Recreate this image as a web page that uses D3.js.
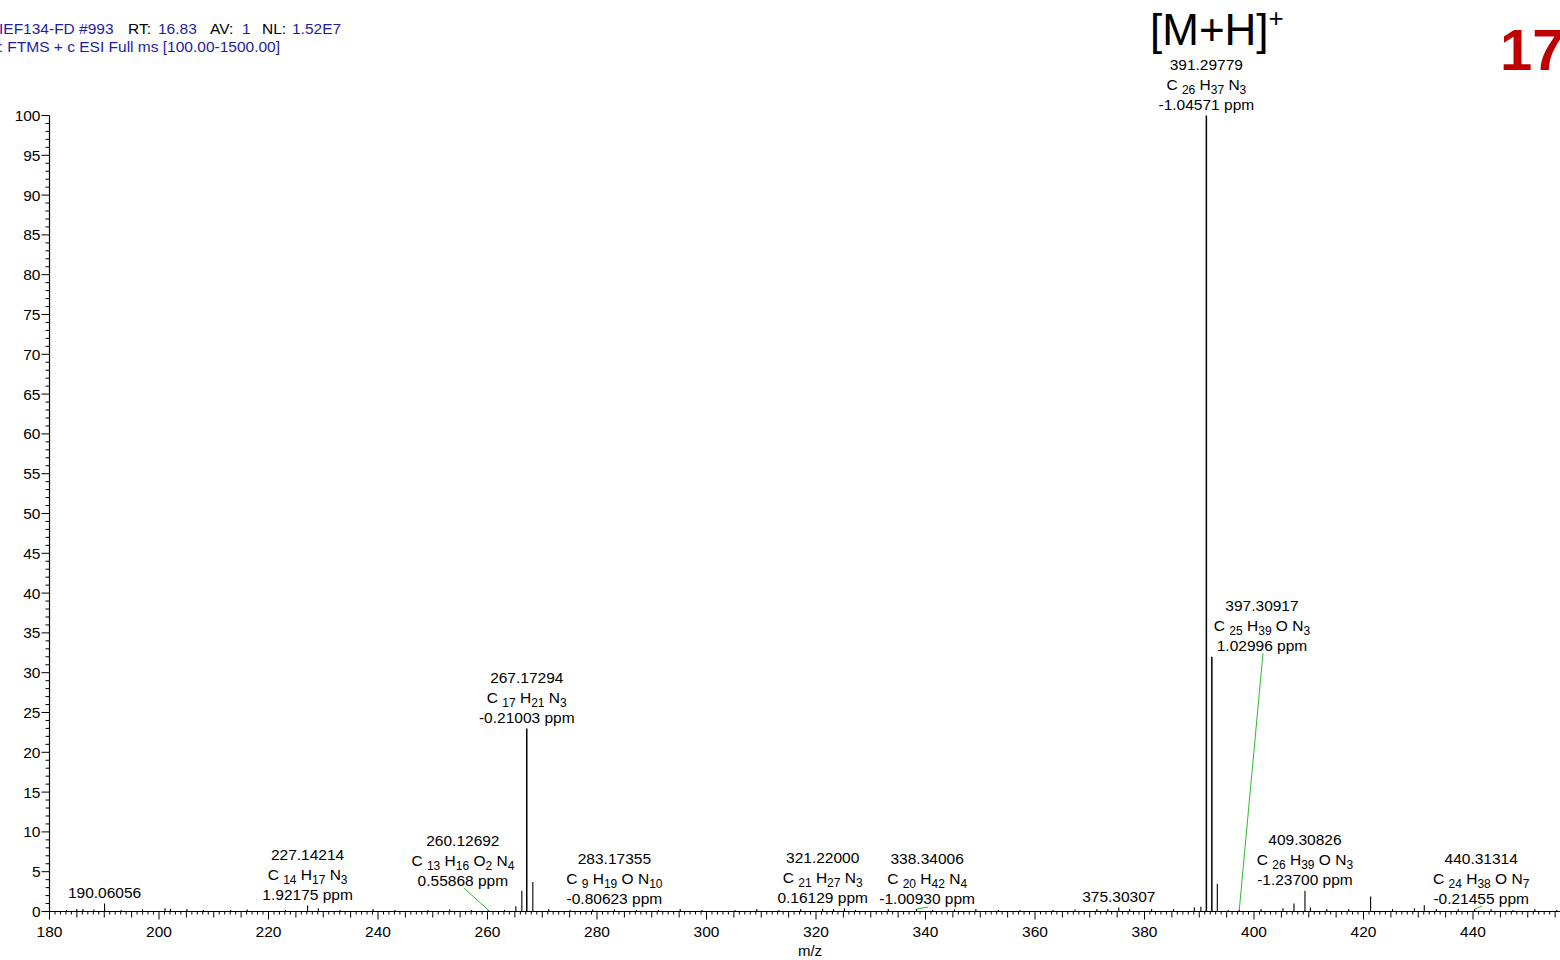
<!DOCTYPE html>
<html>
<head>
<meta charset="utf-8">
<script src="https://cdnjs.cloudflare.com/ajax/libs/d3/7.8.5/d3.min.js"></script>
<style>
  body { margin: 0; background: #fff; overflow: hidden; }
  svg text { font-family: "Liberation Sans", Arial, sans-serif; }
</style>
</head>
<body>
<svg id="spec" width="1560" height="960"></svg>
<script>
// peaks (m/z, relative abundance)
var peakMz = [
  183.1, 185.0, 186.1, 188.1, 190.06, 193.1, 197.0, 201.1, 202.1, 205.1, 208.1, 213.1, 216.1,
  223.1, 227.14, 229.1, 233.1, 239.1, 243.1, 249.1, 253.1, 257.1, 260.13, 263.1,
  265.17, 266.27, 267.17, 268.28, 271.2, 275.1, 279.2, 283.17, 287.2, 291.2, 295.2, 299.2,
  305.2, 309.2, 313.2, 317.2, 321.22, 323.2, 325.2, 327.2, 333.2, 338.34, 341.3, 345.3,
  349.2, 353.3, 357.3, 363.3, 367.3, 371.3, 373.3, 375.30, 377.3, 381.3, 385.3, 389.1,
  390.3, 391.30, 392.30, 393.30, 395.3, 397.31, 401.3, 405.3, 407.3, 409.31, 410.3,
  413.3, 417.3, 421.3, 425.3, 429.3, 431.1, 433.3, 437.3, 440.31, 443.3, 447.3, 451.3, 455.3
];
var peakInt = [
  0.2, 0.3, 0.3, 0.25, 1.0, 0.2, 0.25, 0.4, 0.35, 0.3, 0.2, 0.2, 0.25,
  0.2, 0.75, 0.4, 0.2, 0.3, 0.2, 0.2, 0.25, 0.2, 0.2, 0.2,
  0.65, 2.6, 23.0, 3.7, 0.3, 0.2, 0.25, 0.25, 0.2, 0.2, 0.3, 0.2,
  0.2, 0.3, 0.2, 0.3, 0.35, 0.3, 0.4, 0.2, 0.3, 0.3, 0.2, 0.25,
  0.3, 0.2, 0.2, 0.2, 0.25, 0.3, 0.3, 0.5, 0.3, 0.3, 0.3, 0.5,
  0.6, 100, 32.0, 3.5, 0.2, 0.25, 0.3, 0.4, 1.0, 2.6, 0.5,
  0.3, 0.3, 1.9, 0.3, 0.4, 0.8, 0.3, 0.3, 0.3, 0.3, 0.2, 0.3, 0.2
];

// peak annotations
var annMz      = [190.06056, 227.14214, 260.12692, 267.17294, 283.17355, 321.22000, 338.34006, 375.30307, 391.29779, 397.30917, 409.30826, 440.31314];
var annInt     = [1.0, 0.75, 0.2, 23.0, 0.25, 0.35, 0.3, 0.5, 100, 0.2, 2.6, 0.3];
var annFormula = ["", "C14 H17 N3", "C13 H16 O2 N4", "C17 H21 N3", "C9 H19 O N10", "C21 H27 N3", "C20 H42 N4", "", "C26 H37 N3", "C25 H39 O N3", "C26 H39 O N3", "C24 H38 O N7"];
var annPpm     = ["", "1.92175", "0.55868", "-0.21003", "-0.80623", "0.16129", "-1.00930", "", "-1.04571", "1.02996", "-1.23700", "-0.21455"];
// where the label sits when it is moved off its peak (m/z, abundance), null = right above
var annLabelMz  = [null, null, 255.5, null, null, null, 340.3, null, null, 401.46, null, 441.5];
var annLabelInt = [null, null, 2.95, null, null, null, 0.57, null, null, 32.45, null, 0.69];

var xTicks = [180, 200, 220, 240, 260, 280, 300, 320, 340, 360, 380, 400, 420, 440];
var yTicks = [0, 5, 10, 15, 20, 25, 30, 35, 40, 45, 50, 55, 60, 65, 70, 75, 80, 85, 90, 95, 100];

var x = d3.scaleLinear().domain([180, 456]).range([49.5, 1560.6]);
var y = d3.scaleLinear().domain([0, 100]).range([911.5, 115.5]);

var svg = d3.select("#spec");

// header
var blue = "#1d1d9e";
var h1 = svg.append("text").attr("y", 34).style("font-size", "15.5px");
h1.append("tspan").attr("x", -1).attr("fill", blue).text("IEF134-FD #993");
h1.append("tspan").attr("x", 128).attr("fill", "#000").text("RT:");
h1.append("tspan").attr("x", 158).attr("fill", blue).text("16.83");
h1.append("tspan").attr("x", 210).attr("fill", "#000").text("AV:");
h1.append("tspan").attr("x", 242).attr("fill", blue).text("1");
h1.append("tspan").attr("x", 262).attr("fill", "#000").text("NL:");
h1.append("tspan").attr("x", 292).attr("fill", blue).text("1.52E7");
svg.append("text").attr("x", -9).attr("y", 52).attr("fill", blue).style("font-size", "15.5px")
  .text("T: FTMS + c ESI Full ms [100.00-1500.00]");

// compound number
svg.append("text").attr("x", 1500).attr("y", 70).attr("fill", "#c00000")
  .style("font-size", "58px").style("font-weight", "bold").text("17");

// [M+H]+
var mh = svg.append("text").attr("x", 1150).attr("y", 45).attr("fill", "#000").style("font-size", "44px");
mh.append("tspan").text("[M+H]");
mh.append("tspan").attr("dy", -18).style("font-size", "26px").text("+");

// y axis
var yAxis = svg.append("g");
yAxis.append("line").attr("x1", x(180)).attr("x2", x(180)).attr("y1", y(0)).attr("y2", y(100))
  .attr("stroke", "#000").attr("stroke-width", 1.2);
yAxis.selectAll("line.minor").data(d3.range(0, 101, 1)).enter().append("line")
  .attr("class", "minor")
  .attr("x1", x(180)).attr("x2", function(d){ return d % 5 == 0 ? x(180) - 8 : x(180) - 4 })
  .attr("y1", function(d){ return y(d) }).attr("y2", function(d){ return y(d) })
  .attr("stroke", "#000").attr("stroke-width", 1);
yAxis.selectAll("text").data(yTicks).enter().append("text")
  .attr("x", x(180) - 9).attr("y", function(d){ return y(d) + 5.5 })
  .attr("text-anchor", "end").style("font-size", "15.5px")
  .text(function(d){ return d });

// x axis
var xAxis = svg.append("g");
xAxis.append("line").attr("x1", x(180)).attr("x2", 1560).attr("y1", y(0)).attr("y2", y(0))
  .attr("stroke", "#000").attr("stroke-width", 1.2);
xAxis.selectAll("line.minor").data(d3.range(180, 457, 1)).enter().append("line")
  .attr("class", "minor")
  .attr("x1", function(d){ return x(d) }).attr("x2", function(d){ return x(d) })
  .attr("y1", y(0))
  .attr("y2", function(d){ return d % 20 == 0 ? y(0) + 8 : (d % 5 == 0 ? y(0) + 6 : y(0) + 3) })
  .attr("stroke", "#000").attr("stroke-width", 1);
xAxis.selectAll("text").data(xTicks).enter().append("text")
  .attr("x", function(d){ return x(d) }).attr("y", y(0) + 25)
  .attr("text-anchor", "middle").style("font-size", "15.5px")
  .text(function(d){ return d });
svg.append("text").attr("x", 810).attr("y", 956).attr("text-anchor", "middle")
  .style("font-size", "15px").text("m/z");

// sticks
svg.append("g").selectAll("line").data(peakMz).enter().append("line")
  .attr("x1", function(d){ return x(d) }).attr("x2", function(d){ return x(d) })
  .attr("y1", y(0)).attr("y2", function(d, i){ return y(peakInt[i]) })
  .attr("stroke", "#000").attr("stroke-width", function(d, i){ return peakInt[i] > 10 ? 1.5 : 1.1 });

// annotations
var ann = annMz.map(function(m, i){
  return {
    mz: m, inten: annInt[i], formula: annFormula[i], ppm: annPpm[i],
    lmz: annLabelMz[i] == null ? m : annLabelMz[i],
    lint: annLabelInt[i] == null ? annInt[i] : annLabelInt[i],
    moved: annLabelMz[i] != null
  };
});

var annG = svg.append("g");
ann.forEach(function(a){
  var lx = x(a.lmz);
  var base = a.moved ? y(a.lint) - 2.5 : y(a.lint) - 5.5;
  if (a.moved) {
    annG.append("line")
      .attr("x1", x(a.mz)).attr("y1", y(a.inten))
      .attr("x2", lx + 1).attr("y2", y(a.lint))
      .attr("stroke", "#2db82d").attr("stroke-width", 1);
  }
  var lines = [a.mz.toFixed(5)];
  if (a.formula) { lines.push(a.formula); lines.push(a.ppm + " ppm"); }
  lines.forEach(function(s, k){
    var t = annG.append("text")
      .attr("x", lx).attr("y", base - (lines.length - 1 - k) * 20)
      .attr("text-anchor", "middle").style("font-size", "15.5px").attr("fill", "#000");
    if (k == 1) {
      // formula with subscripts, keep track of whether we sit lowered
      var low = false;
      s.split(" ").forEach(function(p, j){
        var m = p.match(/^([A-Z][a-z]?)(\d*)$/);
        t.append("tspan").attr("dy", low ? -4 : 0).text((j == 0 ? "" : " ") + m[1] + (j == 0 ? " " : ""));
        low = false;
        if (m[2]) {
          t.append("tspan").attr("dy", 4).style("font-size", "12px").text(m[2]);
          low = true;
        }
      });
    } else {
      t.text(s);
    }
  });
});
</script>
</body>
</html>
